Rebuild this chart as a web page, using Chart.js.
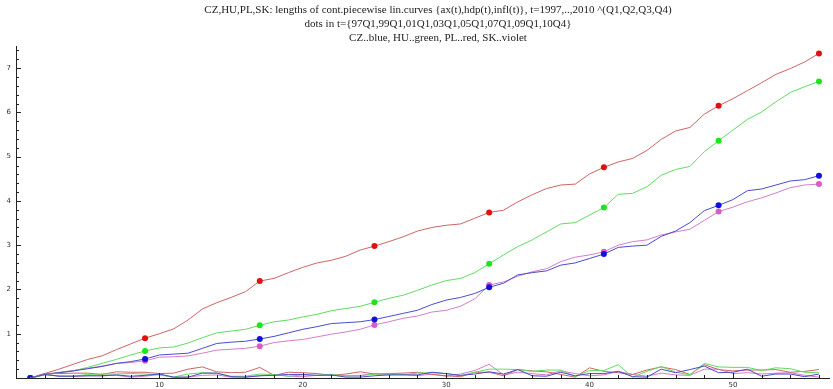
<!DOCTYPE html>
<html>
<head>
<meta charset="utf-8">
<script src="https://cdn.jsdelivr.net/npm/chart.js@4.4.1/dist/chart.umd.min.js"></script>
<style>
  html,body{margin:0;padding:0;background:#fff}
</style>
</head>
<body>
<canvas id="myChart" width="833" height="389"></canvas>
<script>
// quarters 1997Q1 .. 2010Q4
const quarters=[]
for(let i=1;i<=56;i++) quarters.push(i)
const dotQuarters=[1,9,17,25,33,41,49,56]

// cumulative lengths
const czLen=[0,0.08,0.12,0.16,0.21,0.26,0.33,0.37,0.43,0.52,0.54,0.56,0.67,0.78,0.81,0.83,0.88,0.94,1.02,1.10,
  1.16,1.23,1.25,1.27,1.32,1.39,1.46,1.53,1.66,1.76,1.82,1.91,2.05,2.14,2.33,2.38,2.42,2.55,2.60,2.70,
  2.80,2.95,2.98,3.00,3.20,3.32,3.51,3.78,3.90,4.03,4.23,4.27,4.36,4.45,4.48,4.57]
const huLen=[0,0.07,0.12,0.16,0.24,0.33,0.42,0.52,0.61,0.68,0.70,0.79,0.91,1.02,1.06,1.10,1.19,1.27,1.31,1.38,
  1.44,1.52,1.57,1.62,1.71,1.80,1.87,1.98,2.10,2.20,2.25,2.38,2.58,2.78,2.97,3.12,3.30,3.48,3.51,3.68,
  3.85,4.15,4.17,4.32,4.58,4.71,4.78,5.11,5.36,5.60,5.84,6.01,6.24,6.45,6.58,6.70]
const plLen=[0,0.10,0.20,0.31,0.42,0.50,0.64,0.77,0.90,1.00,1.11,1.31,1.56,1.70,1.82,1.95,2.19,2.25,2.38,2.50,
  2.60,2.66,2.75,2.89,2.98,3.08,3.19,3.32,3.40,3.45,3.48,3.61,3.74,3.79,3.98,4.14,4.28,4.36,4.38,4.61,
  4.76,4.88,4.96,5.14,5.39,5.58,5.66,5.96,6.15,6.31,6.49,6.67,6.86,6.99,7.14,7.33]
const skLen=[0,0.09,0.13,0.17,0.22,0.27,0.33,0.35,0.39,0.47,0.48,0.50,0.56,0.63,0.65,0.67,0.72,0.80,0.84,0.87,
  0.93,0.99,1.04,1.10,1.20,1.27,1.35,1.40,1.49,1.53,1.62,1.79,2.10,2.17,2.30,2.40,2.47,2.63,2.73,2.78,
  2.85,3.00,3.08,3.12,3.23,3.30,3.36,3.56,3.76,3.86,3.98,4.07,4.18,4.30,4.36,4.38]

// segment lengths (the low wiggly lines)
const czStep=[0,0.08,0.04,0.04,0.05,0.05,0.07,0.04,0.06,0.09,0.02,0.02,0.11,0.11,0.03,0.02,0.05,0.06,0.08,0.08,
  0.06,0.07,0.02,0.02,0.05,0.07,0.07,0.07,0.13,0.10,0.06,0.09,0.14,0.09,0.19,0.05,0.04,0.13,0.05,0.10,
  0.10,0.15,0.03,0.02,0.20,0.12,0.19,0.27,0.12,0.13,0.20,0.04,0.09,0.09,0.03,0.09]
const huStep=[0,0.07,0.05,0.04,0.08,0.09,0.09,0.10,0.09,0.07,0.02,0.09,0.12,0.11,0.04,0.04,0.09,0.08,0.04,0.07,
  0.06,0.08,0.05,0.05,0.09,0.09,0.07,0.11,0.12,0.10,0.05,0.13,0.20,0.20,0.19,0.15,0.18,0.18,0.03,0.17,
  0.17,0.30,0.02,0.15,0.26,0.13,0.07,0.33,0.25,0.24,0.24,0.17,0.23,0.21,0.13,0.12]
const plStep=[0,0.10,0.10,0.11,0.11,0.08,0.14,0.13,0.13,0.10,0.11,0.20,0.25,0.14,0.12,0.13,0.24,0.06,0.13,0.12,
  0.10,0.06,0.09,0.14,0.09,0.10,0.11,0.13,0.08,0.05,0.03,0.13,0.13,0.05,0.19,0.16,0.14,0.08,0.02,0.23,
  0.15,0.12,0.08,0.18,0.25,0.19,0.08,0.30,0.19,0.16,0.18,0.18,0.19,0.13,0.15,0.19]
const skStep=[0,0.09,0.04,0.04,0.05,0.05,0.06,0.02,0.04,0.08,0.01,0.02,0.06,0.07,0.02,0.02,0.05,0.08,0.04,0.03,
  0.06,0.06,0.05,0.06,0.10,0.07,0.08,0.05,0.09,0.04,0.09,0.17,0.31,0.07,0.13,0.10,0.07,0.16,0.10,0.05,
  0.07,0.15,0.08,0.04,0.11,0.07,0.06,0.20,0.20,0.10,0.12,0.09,0.11,0.12,0.06,0.02]

const titleLines=[
  'CZ,HU,PL,SK: lengths of cont.piecewise lin.curves {ax(t),hdp(t),infl(t)}, t=1997,..,2010 ^(Q1,Q2,Q3,Q4)',
  'dots in t={97Q1,99Q1,01Q1,03Q1,05Q1,07Q1,09Q1,10Q4}',
  'CZ..blue, HU..green, PL..red, SK..violet'
]

function pts(arr){
  return arr.map((v,i)=>({x:quarters[i],y:v}))
}

function lenSet(arr,lineCol,dotCol){
  return {
    data:pts(arr),
    borderColor:lineCol,
    borderWidth:1,
    pointRadius:ctx=>dotQuarters.includes(quarters[ctx.dataIndex])?3:0,
    pointBackgroundColor:dotCol,
    pointBorderWidth:0,
    tension:0
  }
}
function stepSet(arr,lineCol){
  return {data:pts(arr),borderColor:lineCol,borderWidth:1,pointRadius:0,tension:0}
}

// title sits a bit right of the canvas centre, like the original export
const plotLabel={
  id:'plotLabel',
  afterDraw(chart){
    const c=chart.ctx
    c.save()
    c.fillStyle='#222'
    c.font='11px "Liberation Serif", serif'
    c.textAlign='center'
    c.textBaseline='middle'
    titleLines.forEach((s,i)=>c.fillText(s,438,10+i*14))
    c.restore()
  }
}

// Mathematica-like ticks drawn inward from the axes
const innerTicks={
  id:'innerTicks',
  afterDraw(chart){
    const c=chart.ctx
    const a=chart.chartArea
    c.save()
    c.strokeStyle='#222'
    c.lineWidth=1
    const xs=chart.scales.x
    xs.ticks.forEach(t=>{
      const px=Math.round(xs.getPixelForValue(t.value))+0.5
      const len=(t.value%10==0)?5:3
      c.beginPath();c.moveTo(px,a.bottom);c.lineTo(px,a.bottom-len);c.stroke()
    })
    const ys=chart.scales.y
    ys.ticks.forEach(t=>{
      const py=Math.round(ys.getPixelForValue(t.value))+0.5
      const major=Math.abs(t.value-Math.round(t.value))<1e-6
      c.beginPath();c.moveTo(a.left,py);c.lineTo(a.left+(major?5:3),py);c.stroke()
    })
    c.restore()
  }
}

const ctx=document.getElementById('myChart')
const myChart=new Chart(ctx,{
  type:'line',
  data:{
    datasets:[
      stepSet(czStep,'#4b4bd0'),
      stepSet(huStep,'#5fdc5f'),
      stepSet(plStep,'#cf6464'),
      stepSet(skStep,'#d47ccc'),
      lenSet(czLen,'#4b4bd0','#1010e0'),
      lenSet(huLen,'#5fdc5f','#18e818'),
      lenSet(plLen,'#cf6464','#e01010'),
      lenSet(skLen,'#d47ccc','#d65cc8')
    ]
  },
  options:{
    responsive:false,
    animation:false,
    devicePixelRatio:1,
    layout:{padding:{left:0,right:0,top:46,bottom:0}},
    plugins:{
      legend:{display:false},
      tooltip:{enabled:false},
      title:{display:false}
    },
    scales:{
      x:{
        type:'linear',
        min:0,max:56.7,
        afterFit:s=>{s.height=11},
        border:{display:true,color:'#222',width:1},
        grid:{display:false,drawTicks:false},
        ticks:{
          stepSize:2,includeBounds:false,autoSkip:false,maxRotation:0,padding:3,
          color:'#333',font:{family:'"DejaVu Sans", sans-serif',size:7},
          callback:v=>(v%10==0&&v>0)?String(v):''
        }
      },
      y:{
        min:0,max:7.5,
        afterFit:s=>{s.width=16},
        border:{display:true,color:'#222',width:1},
        grid:{display:false,drawTicks:false},
        ticks:{
          stepSize:0.2,includeBounds:false,autoSkip:false,padding:5,
          color:'#333',font:{family:'"DejaVu Sans", sans-serif',size:7},
          callback:v=>{
            const r=Math.round(v)
            return (Math.abs(v-r)<1e-6&&r>0)?String(r):''
          }
        }
      }
    }
  },
  plugins:[plotLabel,innerTicks]
})
</script>
</body>
</html>
